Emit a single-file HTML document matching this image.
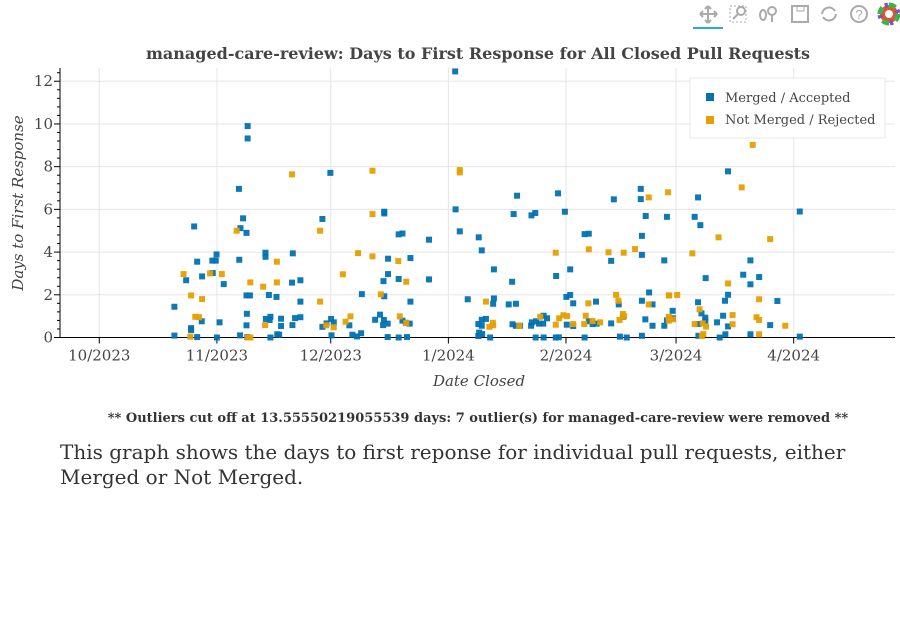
<!DOCTYPE html>
<html><head><meta charset="utf-8"><style>
body{margin:0;background:#fff;width:900px;height:630px;overflow:hidden;font-family:"DejaVu Serif","Liberation Serif",serif}
.fn{position:absolute;left:0;width:956px;top:411px;text-align:center;font-weight:bold;font-size:13px;color:#333}
.desc{position:absolute;left:60px;top:440px;font-size:20px;line-height:25px;color:#333;width:820px}
</style></head><body>
<svg width="900" height="400" style="position:absolute;left:0;top:0">
<g id="toolbar" stroke="#aaa" fill="none" stroke-width="2">
 <g><path d="M708,6v17M700,14h17M708,6l-3,3M708,6l3,3M708,23l-3,-3M708,23l3,-3M700,14l3,-3M700,14l3,3M717,14l-3,-3M717,14l-3,3"/><rect x="693" y="27" width="30" height="2" fill="#26aae1" stroke="none"/></g>
 <g><rect x="730" y="6" width="16" height="16" stroke-dasharray="2,2" stroke-width="1"/><circle cx="741" cy="11" r="4"/><path d="M738,14l-5,5"/></g>
 <g><ellipse cx="763" cy="15" rx="3" ry="5"/><circle cx="772" cy="11" r="4"/><path d="M772,15v7"/></g>
 <g><rect x="792" y="6" width="16" height="16"/><rect x="797" y="6" width="7" height="5" stroke-width="1"/></g>
 <g><path d="M822,14a7,7 0 0 1 13,-3M836,14a7,7 0 0 1 -13,3"/></g>
 <g><circle cx="859" cy="14" r="8"/><text x="859" y="19" font-size="13" fill="#aaa" stroke="none" text-anchor="middle" font-family="Liberation Sans,sans-serif">?</text></g>
 <g stroke="none"><circle cx="889" cy="14" r="9" fill="#e5502f"/><circle cx="889" cy="14" r="9" fill="none" stroke="#3cb44b" stroke-width="5" stroke-dasharray="7,7"/><circle cx="889" cy="14" r="9" fill="none" stroke="#7b4fd0" stroke-width="5" stroke-dasharray="3,11" stroke-dashoffset="4"/><circle cx="889" cy="14" r="4" fill="#fff"/></g>
</g>
<text x="478" y="59" text-anchor="middle" font-weight="bold" font-size="16" fill="#444">managed-care-review: Days to First Response for All Closed Pull Requests</text>
<g id="grid"></g><g id="axes"></g><g id="pts"></g>
<g>
<rect x="690" y="78" width="195" height="60" fill="#fff" fill-opacity="0.95" stroke="#e8e8e8"/>
<g><rect x="706" y="93" width="8" height="8" fill="#0072B2"/><text x="725" y="102" font-size="13" fill="#444">Merged / Accepted</text></g>
<g><rect x="706" y="116" width="8" height="8" fill="#E69F00"/><text x="725" y="124" font-size="13" fill="#444">Not Merged / Rejected</text></g>
</g>
<text x="479" y="386" text-anchor="middle" font-style="italic" font-size="15" fill="#444">Date Closed</text>
<text transform="translate(23,203) rotate(-90)" text-anchor="middle" font-style="italic" font-size="15" fill="#444">Days to First Response</text>
</svg>
<div class="fn">** Outliers cut off at 13.55550219055539 days: 7 outlier(s) for managed-care-review were removed **</div>
<div class="desc">This graph shows the days to first reponse for individual pull requests, either Merged or Not Merged.</div>
<script>
// x values: days since 2023-10-01; y values: days to first response
const xTickLabels=["10/2023","11/2023","12/2023","1/2024","2/2024","3/2024","4/2024"];
const xTickDays=[0,31,61,92,123,152,183];
const yTicks=[0,2,4,6,8,10,12];
const mergedDays=[39.1,39.1,60.9,36.8,37.9,37.2,38.8,25.0,58.8,75.1,75.1,78.9,79.9,86.9,30.9,29.8,30.7,25.8,36.9,43.8,43.8,51.0,76.1,82.0,27.1,22.9,29.9,32.8,76.1,74.9,78.9,86.9,53.0,50.8,38.8,39.7,44.7,46.7,69.2,75.1,53.0,82.0,19.8,38.9,27.0,31.7,45.1,44.9,43.9,47.9,51.6,53.0,38.8,47.9,50.9,24.2,24.2,58.8,59.9,61.1,61.8,65.9,74.0,72.7,75.0,74.8,76.0,79.9,80.8,81.8,19.8,25.8,31.0,37.1,39.0,45.1,46.9,47.4,61.2,66.7,67.9,69.0,76.0,78.9,81.1,
93.8,93.9,95.0,100.0,100.8,104.0,97.1,104.0,103.8,107.9,109.8,108.8,109.2,110.1,113.9,114.9,120.9,122.7,120.4,124.1,123.1,124.1,124.9,127.9,129.0,130.9,134.9,135.6,142.7,142.7,144.0,143.0,143.0,144.9,143.0,145.8,136.9,149.6,148.9,
99.9,100.8,100.8,101.9,100.1,100.9,99.9,103.0,108.9,109.8,110.9,113.8,114.0,115.1,115.9,117.0,117.1,118.0,115.0,117.1,120.3,121.1,123.2,124.9,127.9,129.0,130.0,131.1,134.9,137.2,139.0,138.0,143.0,143.9,145.8,148.9,149.6,
165.7,157.8,156.9,158.4,184.6,171.6,159.8,169.7,173.9,171.6,165.7,164.9,157.8,178.7,151.1,150.1,151.2,158.7,159.7,159.7,164.4,162.8,165.7,176.8,157.9,157.9,165.0,163.5,171.6,184.6];
const mergedVals=[9.9,9.32,7.71,6.96,5.58,5.12,4.9,5.2,5.55,5.89,5.81,4.83,4.87,4.58,3.89,3.6,3.6,3.55,3.64,3.97,3.78,3.94,3.69,3.72,2.86,2.68,3.02,2.5,2.97,2.64,2.74,2.72,2.68,2.57,1.97,1.97,1.99,1.9,2.03,1.93,1.68,1.68,1.44,1.11,0.76,0.71,0.97,0.82,0.87,0.88,0.91,0.95,0.57,0.54,0.58,0.44,0.35,0.5,0.66,0.87,0.71,0.57,1.07,0.83,0.82,0.58,0.65,0.79,0.69,0.65,0.09,0.02,0,0.1,0.02,0,0.15,0.13,0.1,0.13,0.05,0.2,0.02,0,0.02,
12.46,6.0,4.97,4.69,4.08,3.19,1.79,1.83,1.58,1.55,1.58,2.61,5.78,6.64,5.72,5.83,6.75,5.89,2.88,3.19,1.9,1.99,1.6,4.84,4.86,1.68,3.59,6.47,6.96,6.48,5.69,4.76,3.87,2.11,1.72,1.55,1.55,5.65,3.61,
0.63,0.55,0.83,0.87,0.23,0.16,0.07,0,0.62,0.55,0.55,0.55,0.71,0.76,0.65,0.65,1.02,0.9,0,0,0,0.01,0.6,0.54,0,0.76,0.63,0.65,0.66,0.04,0,0.97,0.08,0.85,0.55,0.55,0.8,
7.78,6.56,5.65,5.26,5.9,3.61,2.78,2.94,2.83,2.49,2.0,1.72,1.65,1.71,1.25,0.85,0.9,1.13,0.93,0.79,1.02,0.71,0.52,0.58,0.63,0.08,0.15,0,0.15,0.04];
const rejectedDays=[72.0,50.8,36.2,58.2,72.0,68.2,72.0,78.8,46.8,22.2,29.2,32.3,64.2,39.8,46.8,43.2,80.9,24.2,27.1,58.2,74.2,25.3,26.3,66.2,64.9,79.2,80.9,43.7,59.8,61.8,24.0,39.1,39.8,
95.0,95.0,101.9,120.3,129.0,134.2,138.2,141.2,144.8,149.9,128.9,136.2,136.8,144.8,150.1,102.8,103.7,103.8,110.7,116.2,120.3,121.2,122.3,123.3,124.9,127.8,128.2,130.0,132.0,137.1,138.0,138.3,150.1,150.1,
172.2,169.3,163.2,176.8,156.3,165.7,150.2,152.3,173.9,158.2,151.2,166.9,166.9,156.9,159.0,159.9,173.2,173.9,180.8,159.2,158.8,173.9];
const rejectedVals=[7.81,7.64,5.0,5.0,5.78,3.95,3.8,3.58,3.55,2.97,3.0,2.97,2.96,2.58,2.58,2.38,2.61,1.97,1.8,1.68,2.02,0.97,0.95,0.99,0.74,0.99,0.68,0.58,0.57,0.48,0.04,0,0,
7.84,7.73,1.68,3.97,4.13,3.99,3.97,4.14,6.56,6.8,1.6,2.0,1.72,1.55,1.97,0.5,0.69,0.57,0.55,0.97,0.6,0.9,1.04,1.0,0.63,0.63,1.02,0.77,0.71,0.82,1.1,0.99,0.97,0.79,
9.02,7.03,4.69,4.61,3.94,2.53,1.97,1.99,1.79,1.32,0.85,1.05,0.62,0.63,0.66,0.51,0.95,0.82,0.55,0.16,0.07,0.15];

const NS="http://www.w3.org/2000/svg";
const X0=60,X1=895,Y0=337.5,YT=68;
const xMin=-10.35,xMax=209.7,yMin=0,yMax=12.62;
const sx=d=>X0+(d-xMin)/(xMax-xMin)*(X1-X0);
const sy=v=>Y0-(v-yMin)/(yMax-yMin)*(Y0-YT);
function mk(tag,attrs,parent){const e=document.createElementNS(NS,tag);for(const k in attrs)e.setAttribute(k,attrs[k]);parent.appendChild(e);return e;}
const grid=document.getElementById('grid'),axes=document.getElementById('axes'),pts=document.getElementById('pts');
yTicks.forEach(v=>{const l=mk('line',{x1:X0,x2:X1,y1:sy(v),y2:sy(v),stroke:'#e5e5e5','stroke-width':1},grid);


const t=mk('text',{x:X0-7,y:sy(v)+5,'text-anchor':'end','font-size':15,fill:'#444'},axes);t.textContent=v;


mk('line',{x1:X0-6,x2:X0,y1:sy(v),y2:sy(v),stroke:'#000'},axes);});
for(let v=0.4;v<yMax;v+=0.4){if(Math.abs(v/2-Math.round(v/2))>0.01)mk('line',{x1:X0-3,x2:X0,y1:sy(v),y2:sy(v),stroke:'#000'},axes);}
xTickDays.forEach((d,i)=>{const l=mk('line',{x1:sx(d),x2:sx(d),y1:YT,y2:Y0,stroke:'#e5e5e5'},grid);


mk('line',{x1:sx(d),x2:sx(d),y1:Y0,y2:Y0+6,stroke:'#000'},axes);
const t=mk('text',{x:sx(d),y:Y0+23,'text-anchor':'middle','font-size':15,fill:'#444'},axes);t.textContent=xTickLabels[i];

});
mk('line',{x1:X0,x2:X0,y1:YT,y2:Y0,stroke:'#000'},axes);
mk('line',{x1:X0,x2:X1,y1:Y0,y2:Y0,stroke:'#000'},axes);
function draw(ds,vs,col,name){ds.forEach((d,i)=>{const r=mk('rect',{x:sx(d)-3,y:sy(vs[i])-3,width:6,height:6,fill:col,'fill-opacity':0.95},pts);

});}
draw(mergedDays,mergedVals,'#0072B2','merged-point');
draw(rejectedDays,rejectedVals,'#E69F00','rejected-point');
</script>
</body></html>
